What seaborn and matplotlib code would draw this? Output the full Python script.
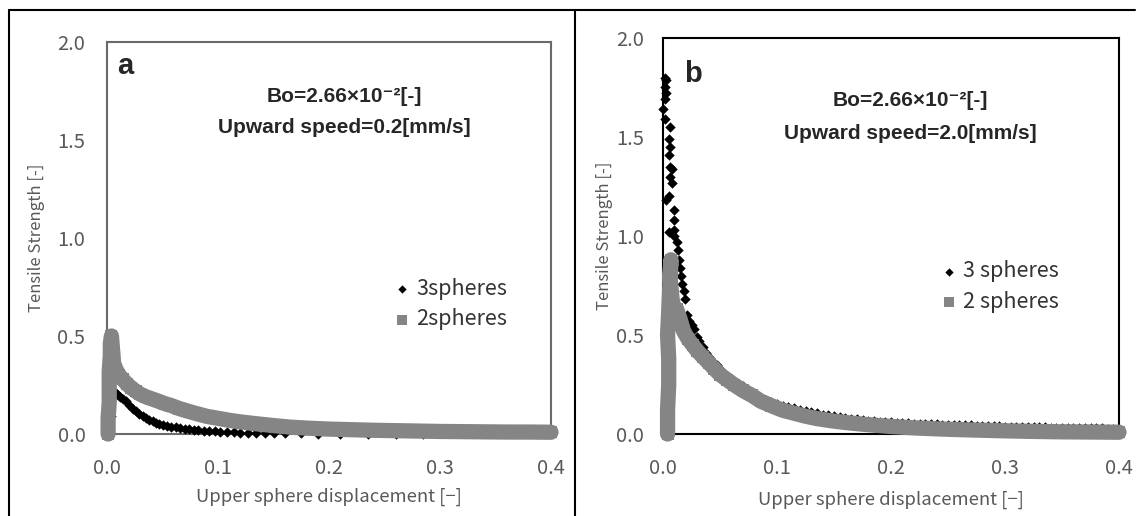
import matplotlib
matplotlib.use("Agg")
import matplotlib.pyplot as plt
import seaborn as sns
from matplotlib.lines import Line2D

# panel a : upward speed 0.2 mm/s
a3_x = [0.000, 0.001, 0.002, 0.001, 0.003, 0.004, 0.006, 0.008, 0.010, 0.012,
        0.014, 0.017, 0.020, 0.023, 0.026, 0.029, 0.032, 0.035, 0.038, 0.041,
        0.044, 0.047, 0.050, 0.054, 0.058, 0.062, 0.066, 0.070, 0.074, 0.078,
        0.082, 0.087, 0.092, 0.097, 0.102, 0.108, 0.114, 0.120, 0.127, 0.134,
        0.142, 0.150, 0.160, 0.175, 0.190, 0.210, 0.235, 0.260, 0.285, 0.004]
a3_y = [0.26, 0.28, 0.27, 0.24, 0.23, 0.22, 0.215, 0.21, 0.20, 0.19,
        0.18, 0.17, 0.15, 0.13, 0.115, 0.10, 0.09, 0.08, 0.072, 0.065,
        0.058, 0.052, 0.046, 0.042, 0.038, 0.034, 0.031, 0.028, 0.025, 0.022,
        0.02, 0.017, 0.015, 0.013, 0.011, 0.009, 0.008, 0.007, 0.006, 0.005,
        0.004, 0.004, 0.003, 0.003, 0.002, 0.002, 0.001, 0.001, 0.0, 0.09]

a2_x = [0.001, 0.001, 0.002, 0.002, 0.002, 0.003, 0.003, 0.004, 0.006, 0.008,
        0.011, 0.014, 0.018, 0.022, 0.026, 0.030, 0.035, 0.040, 0.046, 0.052,
        0.058, 0.065, 0.072, 0.080, 0.090, 0.100, 0.110, 0.120, 0.135, 0.150,
        0.165, 0.180, 0.200, 0.220, 0.240, 0.260, 0.280, 0.300, 0.320, 0.340,
        0.360, 0.380, 0.400]
a2_y = [0.00, 0.08, 0.16, 0.24, 0.32, 0.40, 0.46, 0.50, 0.36, 0.33,
        0.30, 0.28, 0.255, 0.235, 0.218, 0.203, 0.19, 0.18, 0.168, 0.155,
        0.145, 0.13, 0.118, 0.105, 0.09, 0.08, 0.07, 0.062, 0.052, 0.043,
        0.035, 0.03, 0.025, 0.022, 0.019, 0.017, 0.015, 0.013, 0.012, 0.011,
        0.01, 0.01, 0.009]

# panel b : upward speed 2.0 mm/s
b3_x = [0.002, 0.003, 0.002, 0.003, 0.002, 0.000, 0.002, 0.006, 0.005, 0.006,
        0.005, 0.006, 0.008, 0.006, 0.008, 0.005, 0.003, 0.010, 0.010, 0.010,
        0.005, 0.010, 0.012, 0.013,
        0.014, 0.015, 0.016, 0.017, 0.018, 0.019, 0.021, 0.023, 0.025, 0.027,
        0.030, 0.032, 0.035, 0.038, 0.041, 0.044, 0.047, 0.051, 0.055, 0.060,
        0.065, 0.070, 0.075, 0.080, 0.085, 0.090, 0.095,
        0.100, 0.105, 0.110, 0.115, 0.120, 0.125, 0.130, 0.135, 0.140, 0.145,
        0.150, 0.155, 0.160, 0.165, 0.170, 0.175, 0.180, 0.185, 0.190, 0.195,
        0.200, 0.205, 0.210, 0.215, 0.220, 0.225, 0.230, 0.235, 0.240, 0.245,
        0.250, 0.255, 0.260, 0.265, 0.270, 0.275, 0.280, 0.285, 0.290, 0.295,
        0.300, 0.305, 0.310, 0.315, 0.320, 0.325, 0.330, 0.335, 0.340, 0.345,
        0.350, 0.355, 0.360, 0.365, 0.370, 0.375, 0.380, 0.385, 0.390, 0.395,
        0.400, 0.003, 0.006]
b3_y = [1.80, 1.79, 1.75, 1.72, 1.69, 1.64, 1.59, 1.55, 1.49, 1.45,
        1.41, 1.35, 1.34, 1.30, 1.27, 1.20, 1.18, 1.13, 1.08, 1.03,
        1.02, 1.00, 0.97, 0.93,
        0.88, 0.84, 0.80, 0.76, 0.72, 0.68, 0.60, 0.57, 0.55, 0.53,
        0.49, 0.47, 0.44, 0.41, 0.385, 0.365, 0.35, 0.325, 0.30, 0.28,
        0.26, 0.24, 0.215, 0.20, 0.185, 0.172, 0.16,
        0.150, 0.143, 0.136, 0.129, 0.122, 0.116, 0.110, 0.104, 0.098, 0.094,
        0.089, 0.085, 0.081, 0.077, 0.074, 0.071, 0.068, 0.066, 0.063, 0.061,
        0.059, 0.057, 0.056, 0.054, 0.053, 0.051, 0.050, 0.049, 0.048, 0.047,
        0.046, 0.045, 0.044, 0.043, 0.043, 0.042, 0.041, 0.040, 0.039, 0.038,
        0.037, 0.037, 0.036, 0.035, 0.035, 0.034, 0.034, 0.033, 0.032, 0.032,
        0.031, 0.031, 0.030, 0.030, 0.029, 0.029, 0.028, 0.028, 0.027, 0.027,
        0.026, 0.535, 0.39]

b2_x = [0.004, 0.004, 0.005, 0.005, 0.004, 0.005, 0.006, 0.007, 0.006, 0.008,
        0.010, 0.012, 0.015, 0.018, 0.022, 0.026, 0.030, 0.035, 0.040, 0.045,
        0.050, 0.056, 0.062, 0.070, 0.078, 0.086, 0.095, 0.105, 0.115, 0.125,
        0.135, 0.150, 0.165, 0.180, 0.200, 0.220, 0.240, 0.260, 0.280, 0.300,
        0.325, 0.350, 0.375, 0.400]
b2_y = [0.00, 0.12, 0.25, 0.38, 0.50, 0.62, 0.75, 0.88, 0.80, 0.68,
        0.62, 0.63, 0.58, 0.52, 0.48, 0.45, 0.42, 0.39, 0.36, 0.33,
        0.30, 0.275, 0.25, 0.22, 0.195, 0.165, 0.143, 0.12, 0.105, 0.09,
        0.078, 0.065, 0.055, 0.047, 0.038, 0.031, 0.026, 0.022, 0.019, 0.016,
        0.013, 0.011, 0.01, 0.009]

x_ticks = [0.0, 0.1, 0.2, 0.3, 0.4]
y_ticks = [0.0, 0.5, 1.0, 1.5, 2.0]

sns.set_style("white")
plt.rcParams["font.family"] = ["Noto Sans CJK JP", "DejaVu Sans"]

W, H = 1139, 516
fig = plt.figure(figsize=(W / 100, H / 100), dpi=100)
ax_a = fig.add_axes([107 / W, 82 / H, 444 / W, 392 / H])
ax_b = fig.add_axes([663 / W, 82 / H, 456 / W, 396 / H])

gray = "#858585"
bold_font = ["Liberation Sans", "DejaVu Sans"]


def draw_panel(ax, x3, y3, x2, y2, lab3, lab2, frame, letter, speed,
               letter_pos, text_x, text_y, leg_pos, ylab_x, xlab_y, ypad):
    sns.scatterplot(x=x3, y=y3, ax=ax, marker="D", s=28, color="black",
                    linewidth=0, label=lab3, clip_on=False, zorder=3)
    # thick line under the squares so the dense band reads as one strip
    sns.lineplot(x=x2, y=y2, ax=ax, sort=False, estimator=None, color=gray,
                 lw=11, legend=False, clip_on=False, zorder=4)
    sns.scatterplot(x=x2, y=y2, ax=ax, marker="s", s=80, color=gray,
                    linewidth=0, label=lab2, clip_on=False, zorder=4)

    ax.set_xlim(0, 0.4)
    ax.set_ylim(0, 2.0)
    ax.set_xticks(x_ticks)
    ax.set_yticks(y_ticks)
    ax.tick_params(axis="both", direction="in", length=4, width=1,
                   color=frame, labelsize=14.5, labelcolor="#595959")
    ax.tick_params(axis="y", pad=ypad)
    ax.tick_params(axis="x", pad=17)
    for sp in ax.spines.values():
        sp.set_color(frame)
        sp.set_linewidth(1.5)

    ax.set_xlabel("Upper sphere displacement [\u2212]", fontsize=13.3,
                  color="#595959")
    ax.set_ylabel("Tensile Strength [-]", fontsize=12, color="#595959")
    ax.xaxis.set_label_coords(0.5, xlab_y)
    ax.yaxis.set_label_coords(ylab_x, 0.5)
    ax.xaxis.label.set_va("center")
    ax.yaxis.label.set_va("center")

    ax.text(letter_pos[0], letter_pos[1], letter, transform=ax.transAxes,
            fontsize=21, fontweight="bold", family=bold_font, va="baseline")
    ax.text(text_x, text_y[0], "Bo=2.66\u00d710\u207b\u00b2[-]",
            transform=ax.transAxes, fontsize=15, fontweight="bold",
            family=bold_font, ha="center", va="center")
    ax.text(text_x, text_y[1], "Upward speed=" + speed + "[mm/s]",
            transform=ax.transAxes, fontsize=15, fontweight="bold",
            family=bold_font, ha="center", va="center")

    leg = ax.legend(loc="center left", bbox_to_anchor=leg_pos, frameon=False,
                    fontsize=15.5, handlelength=0.55, handletextpad=0.4,
                    labelspacing=0.4, borderpad=0, borderaxespad=0,
                    labelcolor="#333333", markerscale=0.8)
    return leg


draw_panel(ax_a, a3_x, a3_y, a2_x, a2_y, "3spheres", "2spheres",
           "#6a6a6a", "a", "0.2", (0.023, 0.918), 0.534, (0.86, 0.781),
           (0.651, 0.332), -0.158, -0.161, 15.5)
draw_panel(ax_b, b3_x, b3_y, b2_x, b2_y, "3 spheres", "2 spheres",
           "black", "b", "2.0", (0.046, 0.889), 0.542, (0.843, 0.76),
           (0.614, 0.372), -0.129, -0.167, 13.5)

# table-like border around the two panels
top = 1 - 10 / H
fig.add_artist(Line2D([9 / W, 1135 / W], [top, top], color="black", lw=1.5,
                      transform=fig.transFigure))
for xv in (9 / W, 575 / W):
    fig.add_artist(Line2D([xv, xv], [0, top], color="black", lw=1.5,
                          transform=fig.transFigure))

fig.savefig("out.png", dpi=100)
